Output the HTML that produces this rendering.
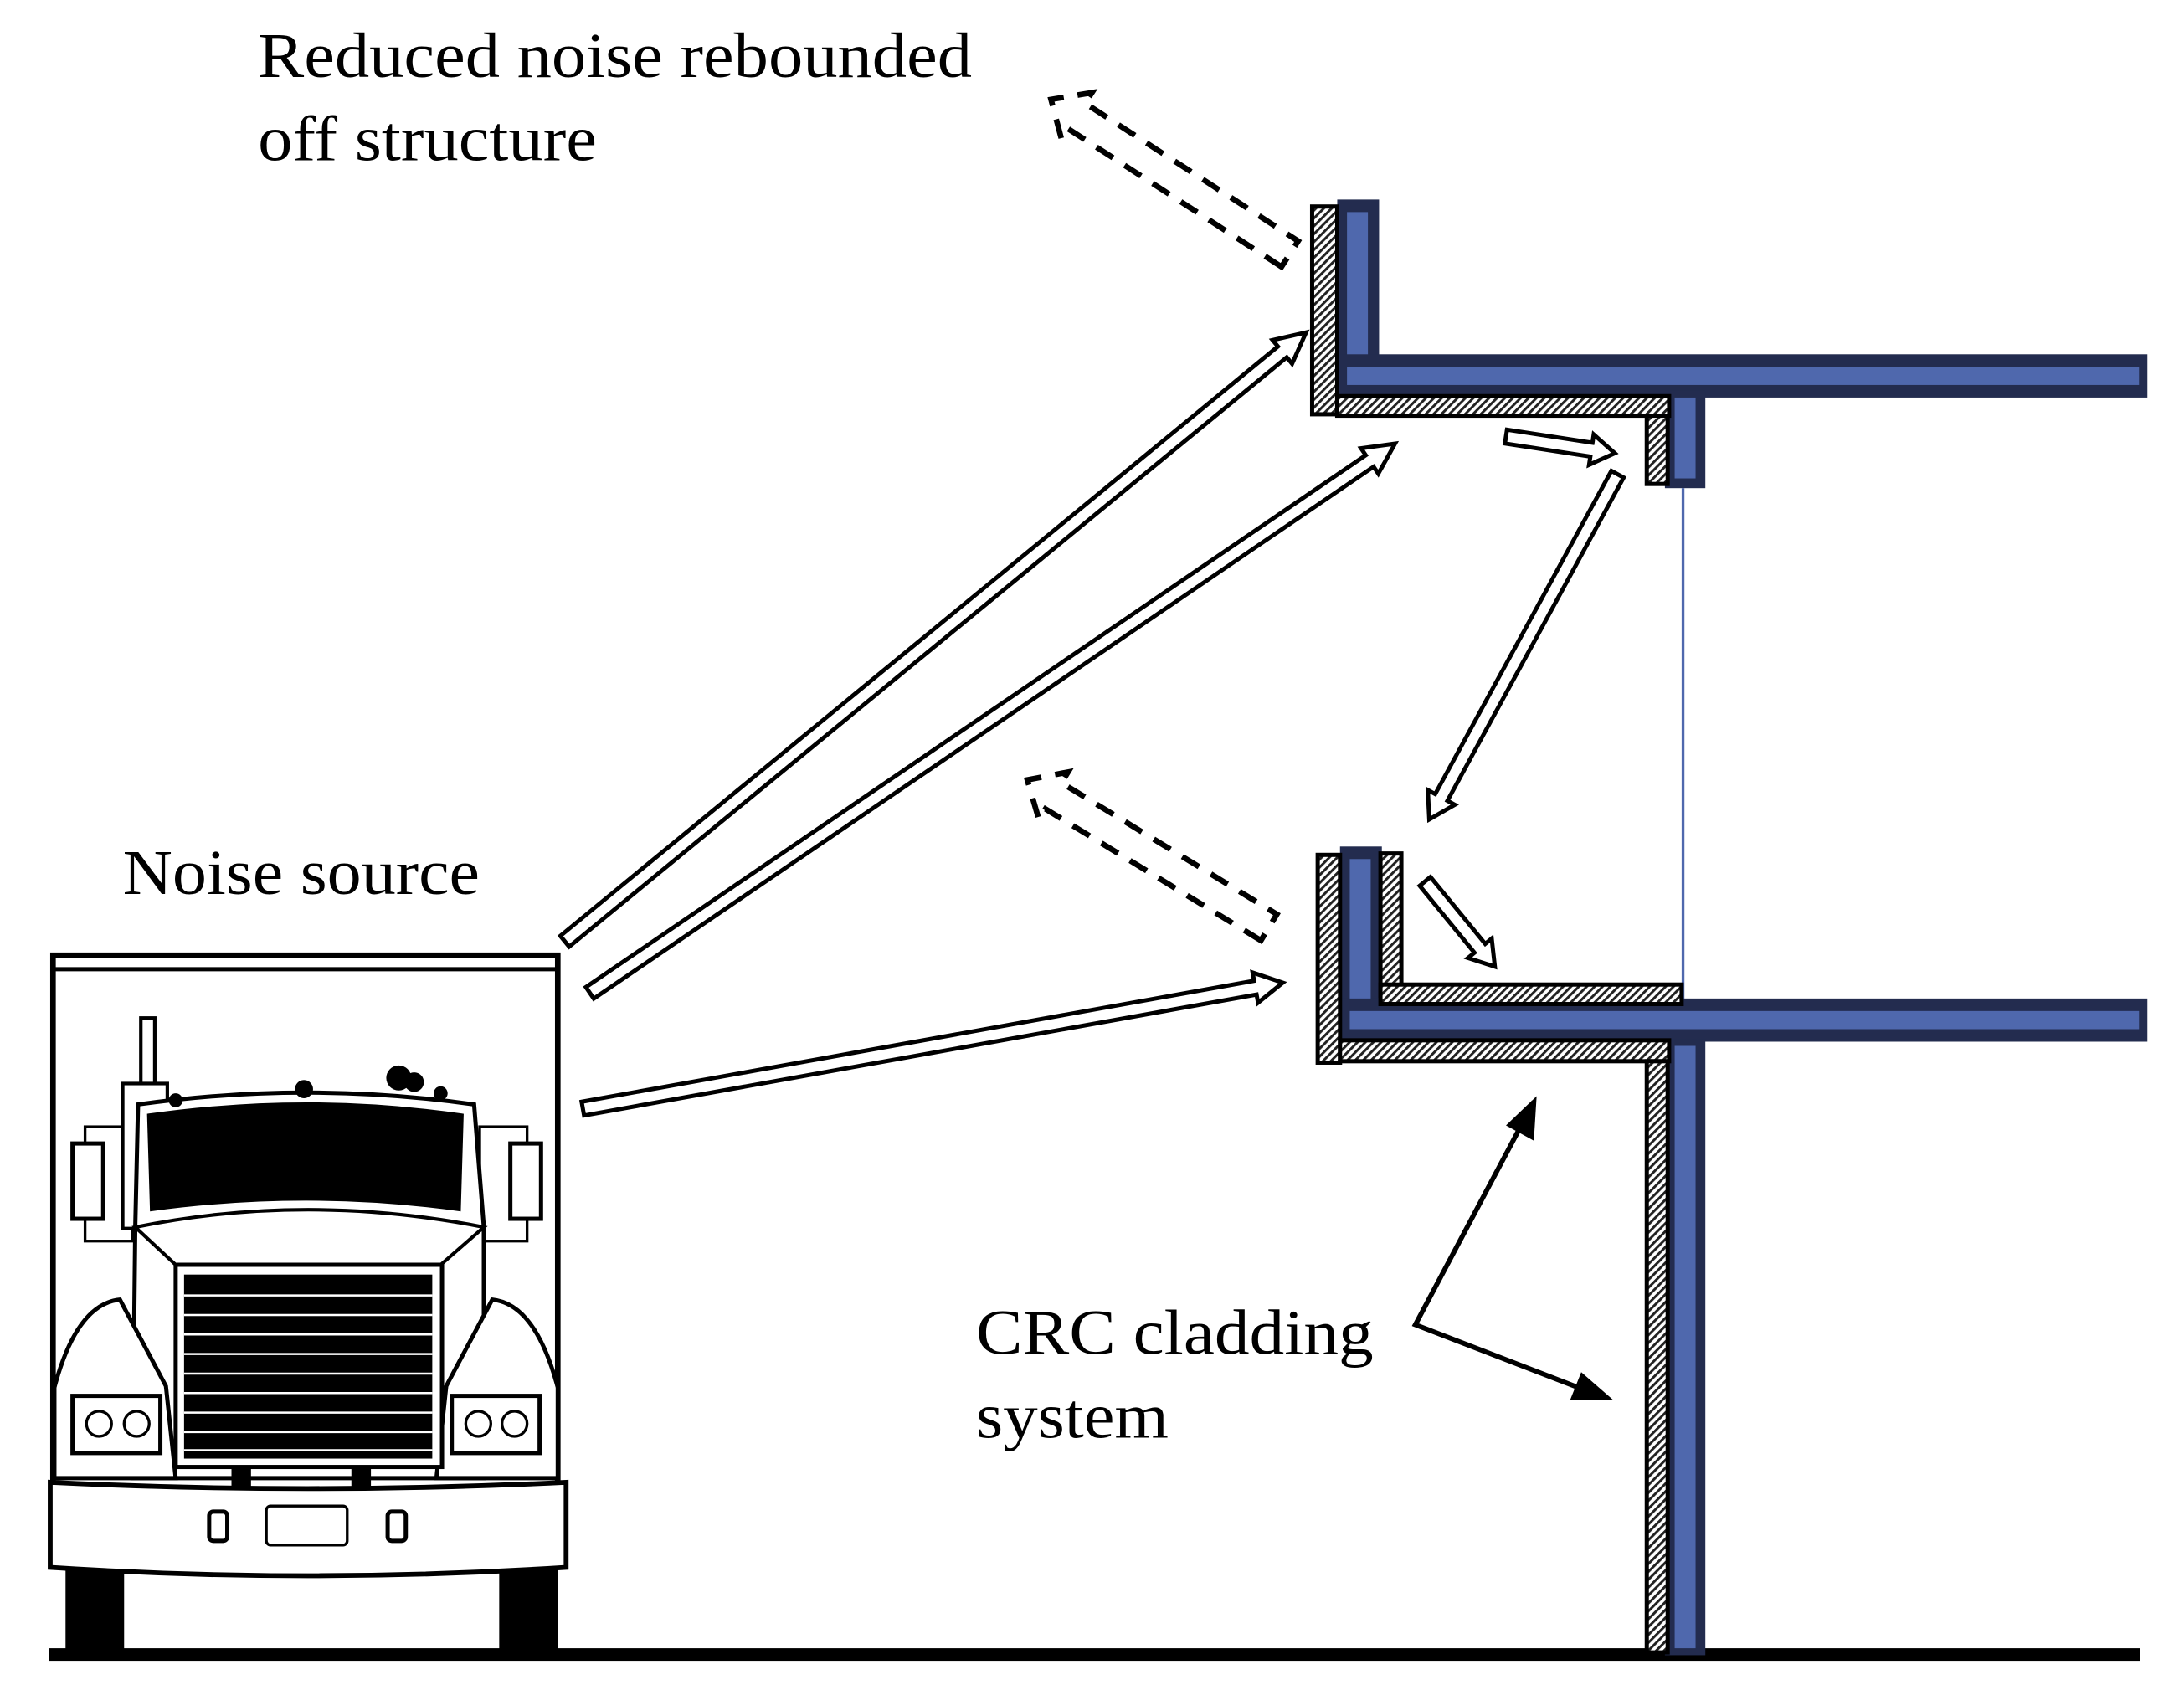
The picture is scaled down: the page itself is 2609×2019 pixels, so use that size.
<!DOCTYPE html>
<html><head><meta charset="utf-8"><style>
html,body{margin:0;padding:0;background:#fff;}
svg{display:block;}
text{font-family:"Liberation Serif",serif;fill:#000;}
</style></head><body>
<svg width="2609" height="2019" viewBox="0 0 1560 1207" xmlns="http://www.w3.org/2000/svg">
<defs>
<pattern id="h" patternUnits="userSpaceOnUse" width="4" height="4" patternTransform="rotate(45)">
<rect width="4" height="4" fill="#fff"/><rect width="1.8" height="4" fill="#222"/>
</pattern>
</defs>
<g transform="scale(0.996)">
<text x="185" y="55" font-size="46" textLength="512" lengthAdjust="spacingAndGlyphs">Reduced noise rebounded</text>
<text x="185" y="115" font-size="46" textLength="243" lengthAdjust="spacingAndGlyphs">off structure</text>
<text x="88" y="641" font-size="46" textLength="256" lengthAdjust="spacingAndGlyphs">Noise source</text>
<text x="700" y="971" font-size="46" textLength="285" lengthAdjust="spacingAndGlyphs">CRC cladding</text>
<text x="700" y="1031" font-size="46" textLength="138" lengthAdjust="spacingAndGlyphs">system</text>

<rect x="35" y="1182" width="1500" height="9" fill="#000"/>

<g>
<rect x="959" y="143" width="30" height="142" fill="#232c4f"/>
<rect x="966" y="152" width="15" height="128" fill="#4f68ad"/>
<rect x="959" y="254" width="581" height="31" fill="#232c4f"/>
<rect x="966" y="263" width="568" height="13" fill="#4f68ad"/>
<rect x="1194" y="280" width="29" height="70" fill="#232c4f"/>
<rect x="1201" y="285" width="15" height="58" fill="#4f68ad"/>
<rect x="941" y="148" width="18" height="149" fill="url(#h)" stroke="#000" stroke-width="3"/>
<rect x="959" y="284" width="238" height="14" fill="url(#h)" stroke="#000" stroke-width="3"/>
<rect x="1181" y="298" width="15" height="49" fill="url(#h)" stroke="#000" stroke-width="3"/>
<line x1="1207" y1="350" x2="1207" y2="718" stroke="#4f68ad" stroke-width="2"/>
</g>

<g>
<rect x="961" y="607" width="30" height="140" fill="#232c4f"/>
<rect x="968" y="616" width="15" height="125" fill="#4f68ad"/>
<rect x="961" y="716" width="579" height="31" fill="#232c4f"/>
<rect x="968" y="725" width="566" height="13" fill="#4f68ad"/>
<rect x="1194" y="745" width="29" height="442" fill="#232c4f"/>
<rect x="1201" y="750" width="15" height="432" fill="#4f68ad"/>
<rect x="945" y="613" width="16" height="149" fill="url(#h)" stroke="#000" stroke-width="3"/>
<rect x="990" y="612" width="15" height="102" fill="url(#h)" stroke="#000" stroke-width="3"/>
<rect x="990" y="706" width="216" height="14" fill="url(#h)" stroke="#000" stroke-width="3"/>
<rect x="961" y="746" width="236" height="15" fill="url(#h)" stroke="#000" stroke-width="3"/>
<rect x="1181" y="761" width="15" height="424" fill="url(#h)" stroke="#000" stroke-width="3"/>
</g>

<g fill="#fff" stroke="#000" stroke-width="3" stroke-linejoin="miter">
<polygon transform="translate(405,675) rotate(-39.4)" points="0,-5 666,-5 666,-11 688,0 666,11 666,5 0,5"/>
<polygon transform="translate(423,712) rotate(-34.3)" points="0,-5 677,-5 677,-11 699,0 677,11 677,5 0,5"/>
<polygon transform="translate(418,795) rotate(-10.2)" points="0,-5 490,-5 490,-11 510,0 490,11 490,5 0,5"/>
<polygon transform="translate(1080,313) rotate(8.7)" points="0,-5 62,-5 62,-11 79,0 62,11 62,5 0,5"/>
<polygon transform="translate(1160,340) rotate(118.6)" points="0,-5 264,-5 264,-11 282,0 264,11 264,5 0,5"/>
<polygon transform="translate(1022,632) rotate(50.7)" points="0,-5 62,-5 62,-11 79,0 62,11 62,5 0,5"/>
</g>
<g fill="none" stroke="#000" stroke-width="4" stroke-dasharray="14,10">
<polygon transform="translate(925,182) rotate(-147.1)" points="0,-11 182,-11 182,-20 204,0 182,20 182,11 0,11"/>
<polygon transform="translate(910,665) rotate(-148.6)" points="0,-11 181,-11 181,-20 203,0 181,20 181,11 0,11"/>
</g>

<g stroke="#000" stroke-width="3.5" fill="none">
<polyline points="1100,790 1015,950 1150,1002"/>
</g>
<polygon points="1102,786 1100,818 1080,807" fill="#000"/>
<polygon points="1157,1004 1126,1004 1134,984" fill="#000"/>

<g stroke="#000" fill="#fff" stroke-width="3">
<rect x="38" y="685" width="362" height="420" stroke-width="4"/>
<line x1="38" y1="695" x2="400" y2="695" stroke-width="3"/>
<rect x="101" y="730" width="10" height="48" stroke-width="2.5"/>
<rect x="61" y="808" width="34" height="82" stroke-width="2"/>
<rect x="344" y="808" width="34" height="82" stroke-width="2"/>
<rect x="52" y="820" width="22" height="54"/>
<rect x="366" y="820" width="22" height="54"/>
<rect x="88" y="777" width="32" height="104" stroke-width="2.5"/>
<path d="M97,880 L99,792 Q220,775 340,792 L347,880 L347,1060 L95,1060 Z"/>
<path d="M107,800 Q220,784 331,800 L329,867 Q220,852 109,867 Z" fill="#000"/>
<path d="M97,880 Q220,855 347,880 L316,907 L126,907 Z" stroke-width="2.5"/>
<circle cx="218" cy="781" r="5" fill="#000"/>
<circle cx="286" cy="773" r="9" fill="#000" stroke="none"/>
<circle cx="297" cy="776" r="7" fill="#000" stroke="none"/>
<circle cx="316" cy="784" r="5" fill="#000" stroke="none"/>
<circle cx="126" cy="789" r="5" fill="#000" stroke="none"/>
<path d="M39,995 Q55,935 86,932 L119,994 L126,1060 L39,1060 Z"/>
<path d="M400,995 Q384,935 353,932 L320,994 L313,1060 L400,1060 Z"/>
<rect x="52" y="1001" width="63" height="41"/>
<circle cx="71" cy="1021" r="9" stroke-width="2"/>
<circle cx="98" cy="1021" r="9" stroke-width="2"/>
<rect x="324" y="1001" width="63" height="41"/>
<circle cx="343" cy="1021" r="9" stroke-width="2"/>
<circle cx="369" cy="1021" r="9" stroke-width="2"/>
<rect x="126" y="907" width="191" height="145"/>
<rect x="132" y="914" width="178" height="132" fill="#000" stroke="none"/>
<g stroke="#fff" stroke-width="1.5">
<line x1="132" y1="929" x2="310" y2="929"/><line x1="132" y1="943" x2="310" y2="943"/>
<line x1="132" y1="957" x2="310" y2="957"/><line x1="132" y1="971" x2="310" y2="971"/>
<line x1="132" y1="985" x2="310" y2="985"/><line x1="132" y1="999" x2="310" y2="999"/>
<line x1="132" y1="1013" x2="310" y2="1013"/><line x1="132" y1="1027" x2="310" y2="1027"/>
<line x1="132" y1="1040" x2="310" y2="1040"/>
</g>
<rect x="166" y="1051" width="14" height="16" fill="#000" stroke="none"/>
<rect x="252" y="1051" width="14" height="16" fill="#000" stroke="none"/>
<rect x="47" y="1125" width="42" height="60" fill="#000" stroke="none"/>
<rect x="358" y="1125" width="42" height="60" fill="#000" stroke="none"/>
<path d="M36,1063 Q220,1072 406,1063 L406,1124 Q220,1136 36,1124 Z" stroke-width="3.5"/>
<rect x="150" y="1084" width="13" height="21" rx="3"/>
<rect x="278" y="1084" width="13" height="21" rx="3"/>
<rect x="191" y="1080" width="58" height="28" rx="3" stroke-width="2"/>
</g>
</g>
</svg>
</body></html>
